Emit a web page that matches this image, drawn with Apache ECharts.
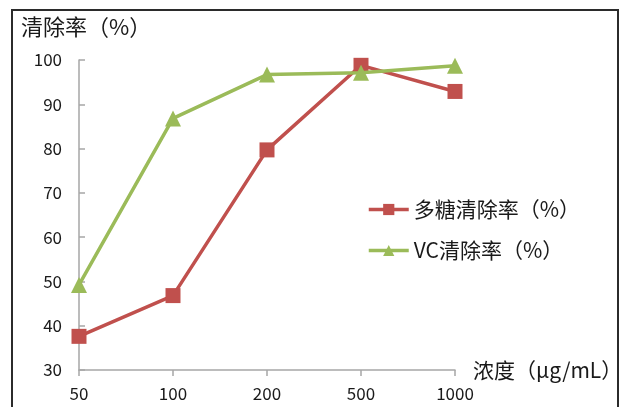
<!DOCTYPE html>
<html>
<head>
<meta charset="utf-8">
<script src="https://cdn.jsdelivr.net/npm/echarts@6/dist/echarts.min.js"></script>
<style>
  html, body { margin: 0; padding: 0; background: #fff; }
  #chart { width: 626px; height: 407px; }
</style>
</head>
<body>
<div id="chart"></div>
<script>
// Concentrations (μg/mL) on the category axis
const concentrations = ['50', '100', '200', '500', '1000'];
// Scavenging rates (%)
const polysaccharideRate = [37.6, 46.8, 79.7, 98.8, 92.9];
const vcRate = [49.2, 86.8, 96.7, 97.1, 98.7];
const seriesNames = ['多糖清除率（%）', 'VC清除率（%）'];

const FONT = '"Noto Sans CJK SC", "Noto Sans", sans-serif';
const TEXT = '#1a1a1a';
const AXIS = '#a6a6a6';
const chart = echarts.init(document.getElementById('chart'), null, { renderer: 'canvas' });

chart.setOption({
  backgroundColor: '#ffffff',
  animation: false,
  textStyle: { fontFamily: FONT },
  graphic: [
    {
      type: 'rect',
      shape: { x: 12, y: 10, width: 606, height: 420 },
      style: { fill: 'none', stroke: '#2b2b2b', lineWidth: 2 },
      silent: true
    },
    {
      type: 'text',
      left: 21,
      top: 16,
      style: { text: '清除率（%）', font: '22px ' + FONT, fill: TEXT }
    }
  ],
  legend: {
    orient: 'vertical',
    left: 362,
    top: 194,
    itemGap: 20,
    itemWidth: 40,
    itemHeight: 14,
    lineStyle: { width: 3.5 },
    textStyle: { fontSize: 21, color: TEXT, fontFamily: FONT },
    data: seriesNames
  },
  grid: { left: 79, right: 171, top: 60, bottom: 37 },
  xAxis: {
    type: 'category',
    data: concentrations,
    boundaryGap: false,
    name: '浓度（μg/mL）',
    nameLocation: 'end',
    nameGap: 18,
    nameTextStyle: { fontSize: 21, color: TEXT, fontFamily: FONT, verticalAlign: 'middle' },
    axisLine: { lineStyle: { color: AXIS, width: 1.5 } },
    axisTick: { show: true, length: 6, alignWithLabel: true, lineStyle: { color: AXIS, width: 1.5 } },
    axisLabel: { fontSize: 17, color: TEXT, margin: 15, fontFamily: FONT },
    splitLine: { show: false }
  },
  yAxis: {
    type: 'value',
    min: 30,
    max: 100,
    interval: 10,
    axisLine: { show: true, lineStyle: { color: AXIS, width: 1.5 } },
    axisTick: { show: true, inside: true, length: 6, lineStyle: { color: AXIS, width: 1.5 } },
    axisLabel: { fontSize: 17, color: TEXT, margin: 17, fontFamily: FONT },
    splitLine: { show: false }
  },
  series: [
    {
      name: seriesNames[0],
      type: 'line',
      data: polysaccharideRate,
      symbol: 'rect',
      symbolSize: 15,
      color: '#C0504D',
      lineStyle: { width: 3.5, color: '#C0504D' },
      itemStyle: { color: '#C0504D' },
      z: 2
    },
    {
      name: seriesNames[1],
      type: 'line',
      data: vcRate,
      symbol: 'triangle',
      symbolSize: 16,
      color: '#9BBB59',
      lineStyle: { width: 3.5, color: '#9BBB59' },
      itemStyle: { color: '#9BBB59' },
      z: 3
    }
  ]
});
</script>
</body>
</html>
